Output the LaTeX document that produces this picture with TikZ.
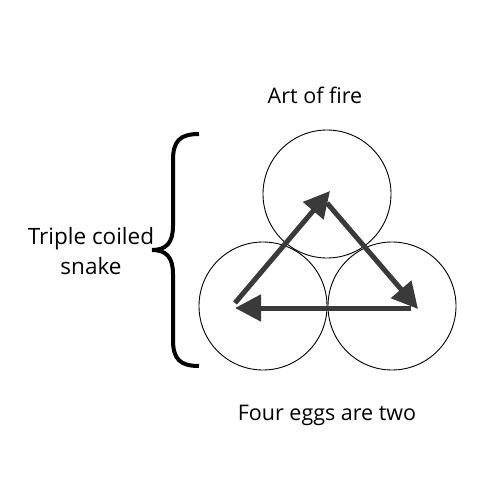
\documentclass[tikz,border=0pt]{standalone}
\usepackage{fontspec}
\setmainfont{Open Sans}
\usetikzlibrary{arrows.meta}
\definecolor{arr}{HTML}{3A3A3A}
\begin{document}
\begin{tikzpicture}[x=1pt,y=-1pt,
  ring/.style={draw=black,line width=0.9pt,circle,minimum size=128pt,inner sep=0pt},
  flow/.style={draw=arr,line width=5pt,-{Triangle[length=26pt,width=26pt]}},
  lbl/.style={font=\fontsize{21.5}{30}\selectfont,text=black,align=center,inner sep=0pt}]
\useasboundingbox (0,0) rectangle (500,500);
\node[ring] (top) at (327,194) {};
\node[ring] (bl) at (263,306) {};
\node[ring] (br) at (392,306) {};
\coordinate (a1s) at (235,303);
\coordinate (a1e) at (330,191);
\coordinate (a2s) at (327,203);
\coordinate (a2e) at (418,309);
\coordinate (a3s) at (411,308);
\coordinate (a3e) at (235,308);
\draw[flow] (a1s) -- (a1e);
\draw[flow] (a2s) -- (a2e);
\draw[flow] (a3s) -- (a3e);
\draw[line width=4pt,black] (199,134) .. controls (180,134) and (173,141) .. (173,160) -- (173,226) .. controls (173,243) and (166,250) .. (152,250) .. controls (166,250) and (173,257) .. (173,274) -- (173,340) .. controls (173,359) and (180,366) .. (199,366);
\node[lbl] (fire) at (315,95) {Art of fire};
\node[lbl,font=\fontsize{22.5}{30}\selectfont] (snake) at (91,251) {Triple coiled\\snake};
\node[lbl] (eggs) at (327,415) {Four eggs are two};
\end{tikzpicture}
\end{document}
